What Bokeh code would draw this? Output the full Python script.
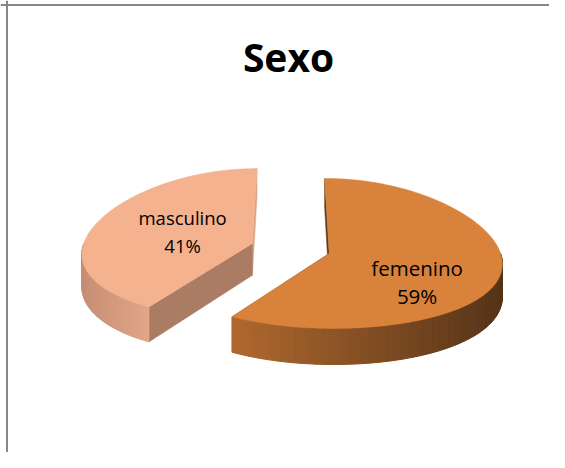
import numpy as np
from bokeh.plotting import figure
from bokeh.models import Range1d, Span
from bokeh.embed import file_html
from bokeh.resources import INLINE
from bokeh.core.properties import value

# ---------------- data ----------------
title_text = "Sexo"
categories = ["femenino", "masculino"]
values = [59, 41]
top_colors = ["#D8823C", "#F4B28E"]
side_left_colors = ["#B0682E", "#C68E74"]
side_right_colors = ["#553418", "#E2A688"]
cut_start_colors = ["#5E3819", "#A97C63"]
cut_end_colors = ["#8A5224", "#D9A386"]

# ---------------- layout ----------------
W, H = 549, 452
CX, CY = 290.0, 248.0       # pie centre (px)
RX, RY = 170.0, 75.0        # ellipse radii
DEPTH = 32.0                # thickness
EXPLODE = 40.0              # explosion distance
K = 0.12                    # perspective factor
LABEL_R = [0.521, 0.441]
LABEL_DY = [18.0, -3.0]
LABEL_SIZE = ["20.5px", "18.5px"]
FONT = "Open Sans"

p = figure(width=W, height=H, output_backend="svg", toolbar_location=None,
           x_range=Range1d(0, W), y_range=Range1d(H, 0),
           min_border=0, outline_line_color=None, background_fill_color="white",
           border_fill_color="white")
p.axis.visible = False
p.grid.visible = False

# chart-area border (left and top)
p.add_layout(Span(location=6.5, dimension="height", line_color="#878787", line_width=2))
p.add_layout(Span(location=4.5, dimension="width", line_color="#878787", line_width=2))


def proj(cx, cy, th, r, z):
    xo = cx + RX * r * np.sin(th)
    yo = cy - RY * r * np.cos(th)
    s = 1 + K * (yo - CY) / RY
    return CX + (xo - CX) * s, yo + DEPTH * z * s


def hex2rgb(h):
    h = h.lstrip("#")
    return np.array([int(h[i:i + 2], 16) for i in (0, 2, 4)], dtype=float)


def lerp_color(c0, c1, t):
    a, b = hex2rgb(c0), hex2rgb(c1)
    c = a + (b - a) * t
    return "#%02x%02x%02x" % tuple(int(round(v)) for v in c)


total = float(sum(values))
bounds = np.concatenate([[0.0], np.cumsum(values) / total * 2 * np.pi])

slices = []
for i, cat in enumerate(categories):
    a0, a1 = bounds[i], bounds[i + 1]
    mid = 0.5 * (a0 + a1)
    cx = CX + EXPLODE * np.sin(mid)
    cy = CY - EXPLODE * np.cos(mid) * RY / RX
    slices.append((i, a0, a1, mid, cx, cy))

for (i, a0, a1, mid, cx, cy) in sorted(slices, key=lambda s: s[4]):
    for th, col in ((a1, cut_end_colors[i]), (a0, cut_start_colors[i])):
        pts = [proj(cx, cy, th, 0, 0), proj(cx, cy, th, 1, 0),
               proj(cx, cy, th, 1, 1), proj(cx, cy, th, 0, 1)]
        p.patch([q[0] for q in pts], [q[1] for q in pts], fill_color=col,
                line_color=col, line_width=0.5)
    s0, s1 = max(a0, np.pi / 2), min(a1, 3 * np.pi / 2)
    if s1 > s0:
        n = max(4, int(np.degrees(s1 - s0)))
        ths = np.linspace(s0, s1, n + 1)
        xs_all = [proj(cx, cy, t, 1, 0)[0] for t in ths]
        xmin, xmax = min(xs_all), max(xs_all)
        xs, ys, cols = [], [], []
        for j in range(n):
            q = [proj(cx, cy, ths[j], 1, 0), proj(cx, cy, ths[j + 1], 1, 0),
                 proj(cx, cy, ths[j + 1], 1, 1), proj(cx, cy, ths[j], 1, 1)]
            xs.append([v[0] for v in q])
            ys.append([v[1] for v in q])
            xm = 0.5 * (q[0][0] + q[1][0])
            t = (xm - xmin) / (xmax - xmin) if xmax > xmin else 0.0
            cols.append(lerp_color(side_left_colors[i], side_right_colors[i], t))
        p.patches(xs, ys, fill_color=cols, line_color=cols, line_width=1)
    ths = np.linspace(a0, a1, 200)
    tx = [proj(cx, cy, 0, 0, 0)[0]] + [proj(cx, cy, t, 1, 0)[0] for t in ths]
    ty = [proj(cx, cy, 0, 0, 0)[1]] + [proj(cx, cy, t, 1, 0)[1] for t in ths]
    p.patch(tx, ty, fill_color=top_colors[i], line_color=top_colors[i], line_width=0.5)

for (i, a0, a1, mid, cx, cy) in slices:
    lx, ly = proj(cx, cy, mid, LABEL_R[i], 0)
    ly += LABEL_DY[i]
    pct = "%d%%" % round(values[i] / total * 100)
    p.text(x=[lx, lx], y=[ly - 14, ly + 14], text=[categories[i], pct],
           text_font=value(FONT), text_font_size=LABEL_SIZE[i],
           text_color="#000000", text_align="center", text_baseline="alphabetic")

p.text(x=[288], y=[56], text=[title_text], text_font=value(FONT),
       text_font_size="39px", text_font_style="bold", text_color="#000000",
       text_align="center", text_baseline="alphabetic")

open("out.html", "w").write(file_html(p, INLINE))
